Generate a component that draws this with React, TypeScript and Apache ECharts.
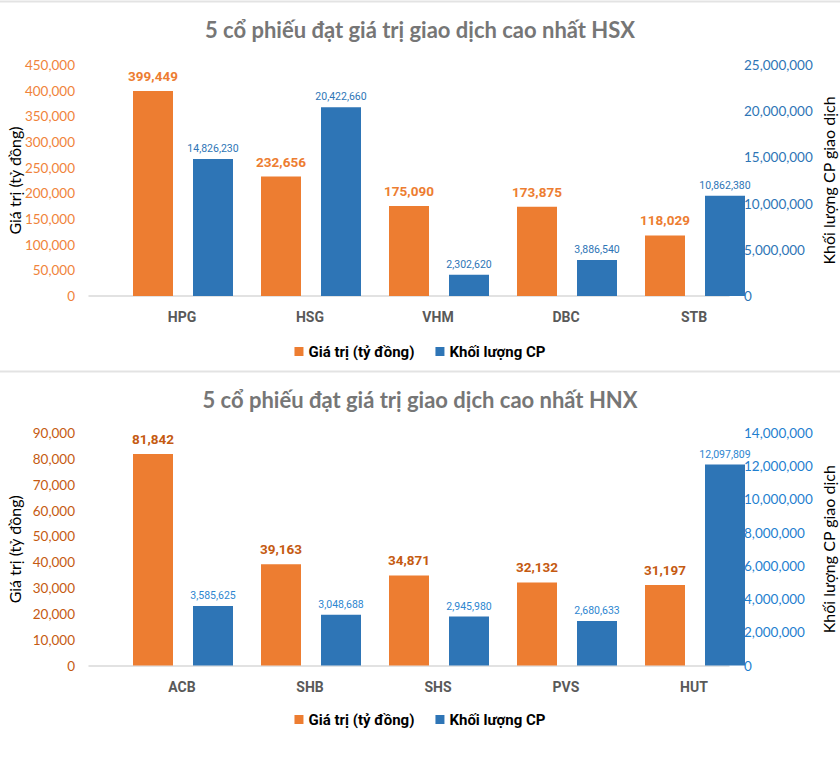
import React, { useEffect, useRef } from 'react';
import * as echarts from 'echarts';

// ---- Data ----
const hsxTitle = '5 cổ phiếu đạt giá trị giao dịch cao nhất HSX';
const hsxCategories = ['HPG', 'HSG', 'VHM', 'DBC', 'STB'];
const hsxValue = [399449, 232656, 175090, 173875, 118029];
const hsxVolume = [14826230, 20422660, 2302620, 3886540, 10862380];
const hsxValueAxis = { min: 0, max: 450000, interval: 50000 };
const hsxVolumeAxis = { min: 0, max: 25000000, interval: 5000000 };

const hnxTitle = '5 cổ phiếu đạt giá trị giao dịch cao nhất HNX';
const hnxCategories = ['ACB', 'SHB', 'SHS', 'PVS', 'HUT'];
const hnxValue = [81842, 39163, 34871, 32132, 31197];
const hnxVolume = [3585625, 3048688, 2945980, 2680633, 12097809];
const hnxValueAxis = { min: 0, max: 90000, interval: 10000 };
const hnxVolumeAxis = { min: 0, max: 14000000, interval: 2000000 };

const valueName = 'Giá trị (tỷ đồng)';
const volumeName = 'Khối lượng CP';
const leftAxisName = 'Giá trị (tỷ đồng)';
const rightAxisName = 'Khối lượng CP giao dịch';

const NARROW = "Roboto, 'Liberation Sans Narrow', sans-serif";
const CAL = "Lato, 'Open Sans', sans-serif";

const fmt = (v: number) => Number(v).toLocaleString('en-US');

type Panel = {
  title: string;
  cats: string[];
  value: number[];
  volume: number[];
  vAxis: { min: number; max: number; interval: number };
  qAxis: { min: number; max: number; interval: number };
  top: number;
  height: number;
  titleTop: number;
  legendTop: number;
  leftLabelColor: string;
  rightLabelColor: string;
  valueLabelColor: string;
  volumeLabelColor: string;
};

const panels: Panel[] = [
  {
    title: hsxTitle, cats: hsxCategories, value: hsxValue, volume: hsxVolume,
    vAxis: hsxValueAxis, qAxis: hsxVolumeAxis,
    top: 65, height: 231, titleTop: 13, legendTop: 339,
    leftLabelColor: '#F0833A', rightLabelColor: '#2E75B6',
    valueLabelColor: '#ED7D31', volumeLabelColor: '#2E75B6',
  },
  {
    title: hnxTitle, cats: hnxCategories, value: hnxValue, volume: hnxVolume,
    vAxis: hnxValueAxis, qAxis: hnxVolumeAxis,
    top: 433, height: 232.5, titleTop: 383, legendTop: 707,
    leftLabelColor: '#C55A11', rightLabelColor: '#1F7FD0',
    valueLabelColor: '#C55A11', volumeLabelColor: '#2E86D0',
  },
];

export default function App() {
  const ref = useRef<HTMLDivElement>(null);

  useEffect(() => {
    if (!ref.current) return;
    const chart = echarts.init(ref.current, null, { renderer: 'svg' });

    const grid: any[] = [];
    const xAxis: any[] = [];
    const yAxis: any[] = [];
    const series: any[] = [];
    const title: any[] = [];
    const legend: any[] = [];

    panels.forEach((p, i) => {
      grid.push({
        left: 89, right: 111, top: p.top, height: p.height,
        containLabel: false, outerBoundsMode: 'none',
      });
      title.push({
        text: p.title,
        left: 'center',
        top: p.titleTop,
        textStyle: { color: '#767676', fontSize: 22, fontWeight: 'bold', fontFamily: CAL },
      });
      legend.push({
        data: [valueName, volumeName],
        top: p.legendTop,
        left: 'center',
        icon: 'rect',
        itemWidth: 9,
        itemHeight: 9,
        itemGap: 21,
        selectedMode: false,
        textStyle: { color: '#000', fontSize: 15, fontWeight: 'bold', fontFamily: NARROW },
      });
      xAxis.push({
        type: 'category',
        gridIndex: i,
        data: p.cats,
        axisLine: { lineStyle: { color: '#D9D9D9', width: 1.5 } },
        axisTick: { show: false },
        axisLabel: {
          color: '#595959', fontSize: 14, fontWeight: 'bold', fontFamily: NARROW,
          margin: 14, padding: [0, 0, 0, 58],
        },
      });
      yAxis.push({
        type: 'value',
        gridIndex: i,
        position: 'left',
        min: p.vAxis.min, max: p.vAxis.max, interval: p.vAxis.interval,
        splitLine: { show: false },
        axisLine: { show: false },
        axisTick: { show: false },
        axisLabel: { color: p.leftLabelColor, fontSize: 13.5, fontFamily: CAL, margin: 14, formatter: fmt },
        name: leftAxisName,
        nameLocation: 'middle',
        nameGap: 67,
        nameMoveOverlap: false,
        nameTextStyle: { color: '#000', fontSize: 16, fontFamily: CAL },
      });
      yAxis.push({
        type: 'value',
        gridIndex: i,
        position: 'right',
        min: p.qAxis.min, max: p.qAxis.max, interval: p.qAxis.interval,
        splitLine: { show: false },
        axisLine: { show: false },
        axisTick: { show: false },
        axisLabel: { color: p.rightLabelColor, fontSize: 13.5, fontFamily: CAL, margin: 15, formatter: fmt },
        name: rightAxisName,
        nameLocation: 'middle',
        nameGap: 91,
        nameMoveOverlap: false,
        nameTextStyle: { color: '#000', fontSize: 16, fontFamily: CAL },
      });
      // invisible spacer so that the value bar sits centered in its category
      series.push({
        type: 'bar',
        name: 'spacer' + i,
        xAxisIndex: i,
        yAxisIndex: i * 2,
        data: p.cats.map(() => 0),
        barWidth: 40,
        barGap: '50%',
        silent: true,
        itemStyle: { color: 'rgba(0,0,0,0)' },
      });
      series.push({
        type: 'bar',
        name: valueName,
        xAxisIndex: i,
        yAxisIndex: i * 2,
        data: p.value,
        barWidth: 40,
        barGap: '50%',
        clip: false,
        itemStyle: { color: '#ED7D31' },
        label: {
          show: true, position: 'top', distance: 8,
          color: p.valueLabelColor, fontSize: 13.5, fontWeight: 'bold', fontFamily: NARROW,
          formatter: (d: any) => fmt(d.value),
        },
      });
      series.push({
        type: 'bar',
        name: volumeName,
        xAxisIndex: i,
        yAxisIndex: i * 2 + 1,
        data: p.volume,
        barWidth: 40,
        barGap: '50%',
        clip: false,
        itemStyle: { color: '#2E75B6' },
        label: {
          show: true, position: 'top', distance: 5,
          color: p.volumeLabelColor, fontSize: 10.5, fontFamily: NARROW,
          formatter: (d: any) => fmt(d.value),
        },
      });
    });

    chart.setOption({
      animation: false,
      backgroundColor: '#fff',
      color: ['#ED7D31', '#2E75B6'],
      title,
      legend,
      grid,
      xAxis,
      yAxis,
      series,
      graphic: [
        { type: 'line', shape: { x1: 0, y1: 1.5, x2: 840, y2: 1.5 }, style: { stroke: '#E3E3E3', lineWidth: 2 } },
        { type: 'line', shape: { x1: 0, y1: 371.5, x2: 840, y2: 371.5 }, style: { stroke: '#E3E3E3', lineWidth: 2 } },
      ],
    });

    return () => chart.dispose();
  }, []);

  return (
    <div
      ref={ref}
      style={{ position: 'fixed', left: 0, top: 0, width: 840, height: 763, background: '#fff' }}
    />
  );
}
